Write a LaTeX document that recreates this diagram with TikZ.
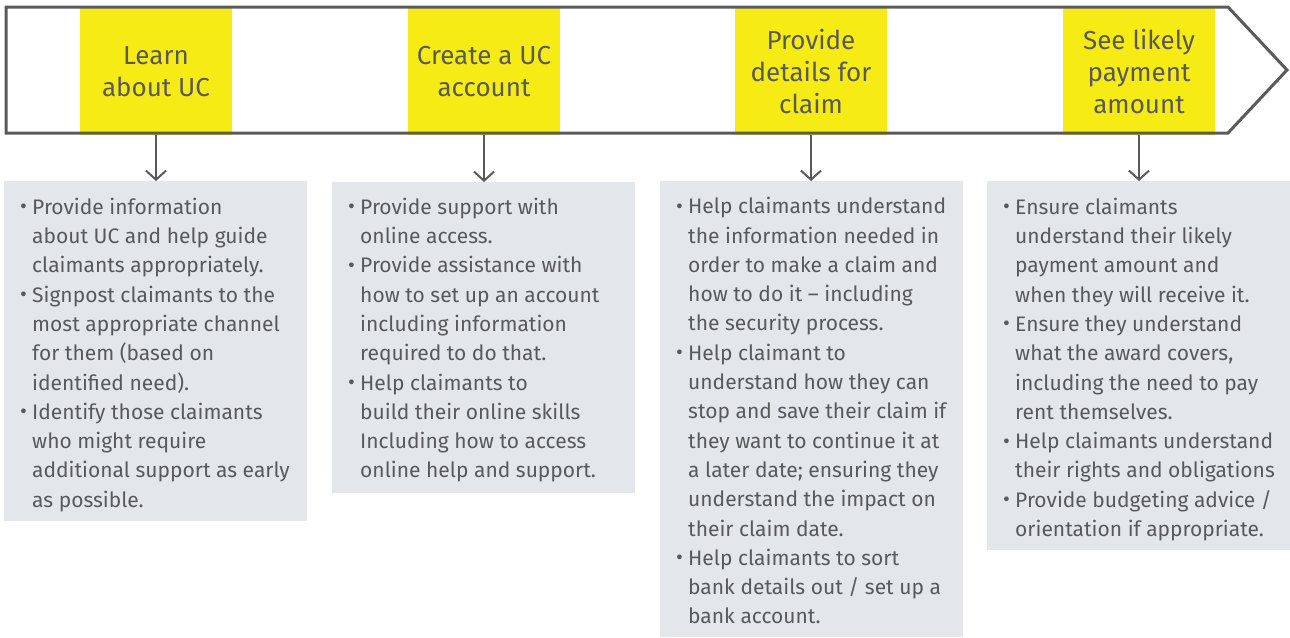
\documentclass[tikz,border=0pt]{standalone}
\usepackage{graphicx}
\usepackage{fontspec}
\setmainfont{Fira Sans}
\usetikzlibrary{arrows.meta}
\definecolor{ucyellow}{HTML}{F6EB14}
\definecolor{ucgrey}{HTML}{E3E7EB}
\definecolor{uctext}{HTML}{58595B}
\definecolor{ucline}{HTML}{5A5A5A}
\newcommand\bul{\makebox[12pt][l]{\raisebox{0.02em}{•}}}
\newcommand\ind{\hspace*{12pt}}
\begin{document}
\begin{tikzpicture}[x=1pt,y=-1pt,
  title/.style={fill=ucyellow, minimum width=152pt, minimum height=127pt, inner sep=0pt, align=center, text=uctext, font=\fontsize{26}{32}\selectfont},
  panel/.style={fill=ucgrey, minimum width=303pt, inner sep=0pt, anchor=north west},
  body/.style={anchor=north west, align=left, inner sep=0pt, text=uctext, font=\fontsize{21}{29.3}\selectfont},
  link/.style={draw=ucline, line width=2pt, -{Straight Barb[length=9pt,width=20pt,line width=2pt]}}]
\useasboundingbox (0,0) rectangle (1290,637);

% yellow step boxes
\node[title] (y1) at (156,71.5) {Learn\\about UC};
\node[title] (y2) at (484,71.5) {Create a UC\\account};
\node[title] (y3) at (811,71.5) {Provide\\details for\\claim};
\node[title] (y4) at (1139,71.5) {See likely\\payment\\amount};

% arrow outline
\draw[ucline, line width=3pt, line join=miter] (6,7) -- (1228,7) -- (1287,70) -- (1228,133) -- (6,133) -- cycle;

% grey panels
\node[panel, minimum height=340pt] (b1) at (4,181) {};
\node[panel, minimum height=311pt] (b2) at (332,182) {};
\node[panel, minimum height=456pt] (b3) at (660,181) {};
\node[panel, minimum height=369pt] (b4) at (987,181) {};

% connectors
\draw[link] (y1.south) -- (y1.south |- b1.north);
\draw[link] (y2.south) -- (y2.south |- b2.north);
\draw[link] (y3.south) -- (y3.south |- b3.north);
\draw[link] (y4.south) -- (y4.south |- b4.north);

% texts
\node[body] (t1) at ([shift={(16,12.5)}]b1.north west) {%
\strut\bul Provide information\\
\ind about UC and help guide\\
\ind claimants appropriately.\\
\bul Signpost claimants to the\\
\ind most appropriate channel\\
\ind for them (based on\\
\ind identified need).\\
\bul Identify those claimants\\
\ind who might require\\
\ind additional support as early\\
\ind as possible.};

\node[body] (t2) at ([shift={(16,11.5)}]b2.north west) {%
\strut\bul Provide support with\\
\ind online access.\\
\bul Provide assistance with\\
\ind how to set up an account\\
\ind including information\\
\ind required to do that.\\
\bul Help claimants to\\
\ind build their online skills\\
\ind Including how to access\\
\ind online help and support.};

\node[body] (t3) at ([shift={(16,12)}]b3.north west) {%
\strut\bul Help claimants understand\\
\ind the information needed in\\
\ind order to make a claim and\\
\ind how to do it – including\\
\ind the security process.\\
\bul Help claimant to\\
\ind understand how they can\\
\ind stop and save their claim if\\
\ind they want to continue it at\\
\ind a later date; ensuring they\\
\ind understand the impact on\\
\ind their claim date.\\
\bul Help claimants to sort\\
\ind bank details out / set up a\\
\ind bank account.};

\node[body] (t4) at ([shift={(16,12.5)}]b4.north west) {%
\strut\bul Ensure claimants\\
\ind understand their likely\\
\ind payment amount and\\
\ind when they will receive it.\\
\bul Ensure they understand\\
\ind what the award covers,\\
\ind including the need to pay\\
\ind rent themselves.\\
\bul Help claimants understand\\
\ind their rights and obligations\\
\bul Provide budgeting advice /\\
\ind orientation if appropriate.};
\end{tikzpicture}
\end{document}
